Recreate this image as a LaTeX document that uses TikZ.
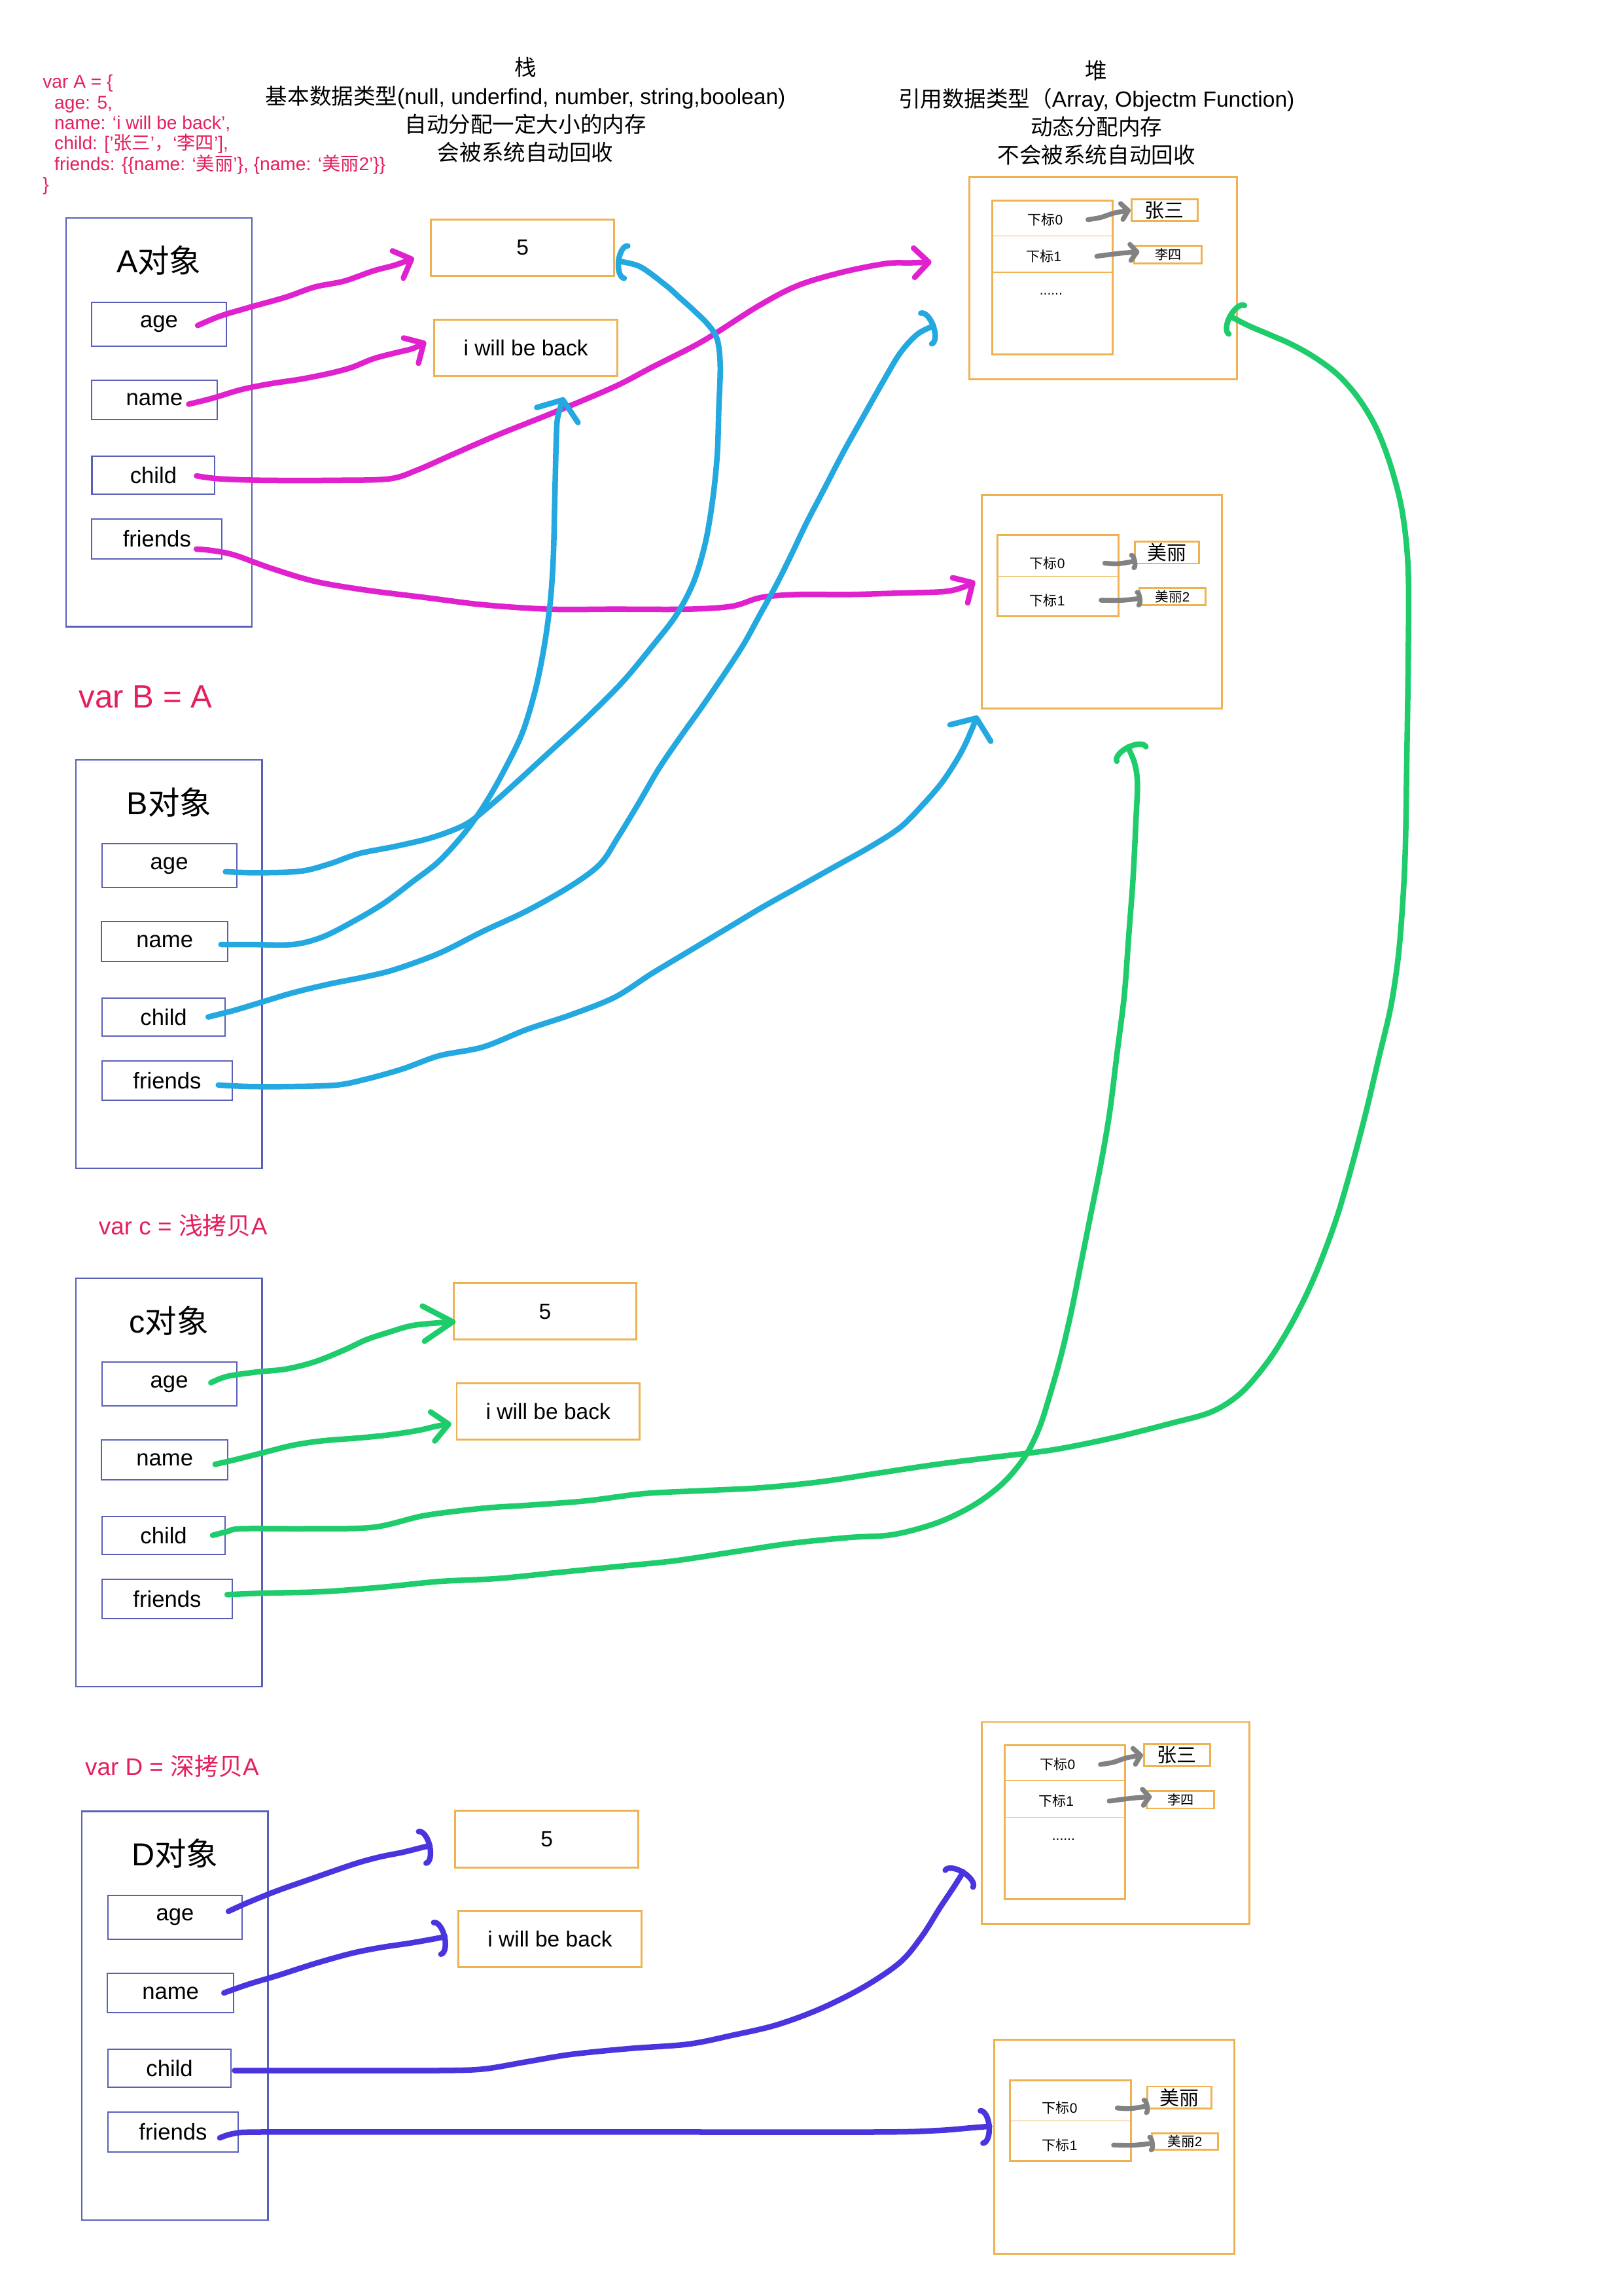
\documentclass[tikz,border=0pt]{standalone}
\usepackage{fontspec}
\setmainfont{Liberation Sans}
\newfontfamily\cjk{Noto Sans CJK SC}
\usetikzlibrary{arrows.meta}
\definecolor{codered}{RGB}{228,32,92}
\definecolor{objline}{RGB}{88,96,184}
\definecolor{heapline}{RGB}{238,178,82}
\definecolor{magline}{RGB}{224,34,206}
\definecolor{blueline}{RGB}{36,168,224}
\definecolor{greenline}{RGB}{30,204,108}
\definecolor{purpline}{RGB}{74,52,222}
\definecolor{grayline}{RGB}{130,130,130}
\newcommand{\zh}[1]{{\cjk #1}}
\newcommand{\fsz}[2]{\fontsize{#1}{#2}\selectfont}

\begin{document}
\begin{tikzpicture}[x=1pt, y=-1pt,
  objbox/.style={draw=objline, line width=1pt, minimum width=127pt,
    minimum height=279pt, inner sep=0},
  field/.style={draw=objline, line width=0.9pt, inner sep=0,
    font=\fsz{15.5}{18}},
  valbox/.style={draw=heapline, line width=1.3pt, minimum width=125pt,
    minimum height=38.5pt, inner sep=0, font=\fsz{15}{18}},
  heapbox/.style={draw=heapline, line width=1.3pt, inner sep=0},
  idx/.style={inner sep=0, font=\fsz{9.4}{11}},
  divider/.style={heapline, line width=0.6pt},
  hand/.style={line width=3.8pt, line cap=round, line join=round},
  chev/.style={-{Straight Barb[round, length=10pt, width=20pt]}},
  hook/.style={-{Arc Barb[round, length=7pt, width=26pt]}},
  grayarr/.style={grayline, line width=3.3pt, line cap=round,
    -{Straight Barb[round, length=4.5pt, width=11pt]}},
  grayhook/.style={grayline, line width=3.3pt, line cap=round,
    -{Arc Barb[round, length=3pt, width=12pt]}},
]
\useasboundingbox (0,0) rectangle (1109,1568);

  % Source object
  \node[anchor=north west, align=left, inner sep=0, text=codered,
    font=\fsz{12.6}{14}] (code) at (29,51) {var A = \{\\
    \hspace*{8pt}age: 5,\\
    \hspace*{8pt}name: ‘i will be back’,\\
    \hspace*{8pt}child: [’\zh{张三}’\zh{，}‘\zh{李四}’],\\
    \hspace*{8pt}friends: \{\{name: ‘\zh{美丽}’\}, \{name: ‘\zh{美丽}2’\}\}\\
    \}};

  % Headers
  \node[anchor=north, align=center, inner sep=0, font=\fsz{15}{19.3}]
    (stackhead) at (359,39) {\zh{栈}\\
    \zh{基本数据类型}(null, underfind, number, string,boolean)\\
    \zh{自动分配一定大小的内存}\\
    \zh{会被系统自动回收}};
  \node[anchor=north, align=center, inner sep=0, font=\fsz{15}{19.3}]
    (heaphead) at (749,41) {\zh{堆}\\
    \zh{引用数据类型（}Array, Objectm Function)\\
    \zh{动态分配内存}\\
    \zh{不会被系统自动回收}};

  % Assignment labels
  \node[text=codered, inner sep=0, font=\fsz{22}{24}] (labB) at (99.5,476) {var B = A};
  \node[text=codered, inner sep=0, font=\fsz{16.5}{18}] (labc) at (125,837) {var c = \zh{浅拷贝}A};
  \node[text=codered, inner sep=0, font=\fsz{16.5}{18}] (labD) at (117.5,1206) {var D = \zh{深拷贝}A};

  % Object panels
  \foreach \ob/\sx/\sy in {A/0/0, B/7/370, c/7/724, D/11/1088} {
    \begin{scope}[shift={(\sx,\sy)}]
      \node[objbox] (\ob-obj) at (108.5,288.5) {};
      \node[inner sep=0, font=\fsz{21.7}{24}] (\ob-title) at (108.5,178) {\ob\zh{对象}};
      \node[field, minimum width=92pt, minimum height=30pt] (\ob-age) at (108.6,221.3) {age};
      \node[field, minimum width=86pt, minimum height=27pt] (\ob-name) at (105.5,273) {name};
      \node[field, minimum width=84pt, minimum height=26pt] (\ob-child) at (104.8,324.5) {child};
      \node[field, minimum width=89pt, minimum height=27pt] (\ob-friends) at (107.2,368) {friends};
    \end{scope}
  }

  % Stack values
  \foreach \ob/\sx/\sy in {A/0/0, c/15.3/726.4, D/16.5/1086.8} {
    \begin{scope}[shift={(\sx,\sy)}]
      \node[valbox] (\ob-v5) at (357,169.2) {5};
      \node[valbox] (\ob-vname) at (359.2,237.4) {i will be back};
    \end{scope}
  }

  % Heap objects
  \foreach \hp/\sx/\sy in {h/0/0, dh/8.5/1055} {
    \begin{scope}[shift={(\sx,\sy)}]
      % child array
      \node[heapbox, minimum width=183pt, minimum height=138pt] (\hp-arr) at (753.5,190) {};
      \node[heapbox, minimum width=82pt, minimum height=105pt] (\hp-list) at (719,189.5) {};
      \draw[divider] (678,161) -- (760,161);
      \draw[divider] (678,186) -- (760,186);
      \node[idx] (\hp-i0) at (714,150) {\zh{下标}0};
      \node[idx] (\hp-i1) at (713,175) {\zh{下标}1};
      \node[idx] (\hp-dots) at (718,201) {......};
      \node[heapbox, minimum width=45pt, minimum height=15pt, font=\fsz{13.4}{15}]
        (\hp-zs) at (795.5,143.5) {\zh{张三}};
      \node[heapbox, minimum width=46pt, minimum height=12pt, font=\fsz{9}{10}]
        (\hp-ls) at (798,174) {\zh{李四}};
      \draw[grayarr] plot[smooth] coordinates {([xshift=17pt]\hp-i0.east) (752,148.5) (761,145.5) (\hp-zs.west)};
      \draw[grayarr] plot[smooth] coordinates {([xshift=24pt]\hp-i1.east) (765,173) ([shift={(4,-2)}]\hp-ls.west)};
      % friends list
      \node[heapbox, minimum width=164pt, minimum height=146pt] (\hp-fri) at (752.75,411) {};
      \node[heapbox, minimum width=82.6pt, minimum height=55.2pt] (\hp-flist) at (722.9,393.2) {};
      \draw[divider] (681.6,393.5) -- (764.2,393.5);
      \node[idx] (\hp-j0) at (715.5,384.6) {\zh{下标}0};
      \node[idx] (\hp-j1) at (715.5,409.9) {\zh{下标}1};
      \node[heapbox, minimum width=43.6pt, minimum height=14.9pt, font=\fsz{13.4}{15}]
        (\hp-ml) at (797.2,377.4) {\zh{美丽}};
      \node[heapbox, minimum width=45.2pt, minimum height=11.5pt, font=\fsz{9.2}{10}]
        (\hp-ml2) at (801,407.5) {\zh{美丽}2};
      \draw[grayhook] plot[smooth] coordinates {([xshift=27pt]\hp-j0.east) (764,385) ([shift={(2,5.5)}]\hp-ml.west)};
      \draw[grayhook] plot[smooth] coordinates {([xshift=24.5pt]\hp-j1.east) (766,410) ([shift={(2.6,1)}]\hp-ml2.west)};
    \end{scope}
  }

  % A: magenta references
  \draw[hand, magline, chev] plot[smooth, tension=0.55] coordinates {([shift={(-20,1)}]A-age.east)
    (150,216) (170,210) (195,203) (215,196) (235,192) (255,185) (270,181) ([shift={(-11,7)}]A-v5.west)};
  \draw[hand, magline, chev] plot[smooth, tension=0.55] coordinates {([shift={(-20,3)}]A-name.east)
    (145,272) (165,266) (185,262) (205,259) (225,255) (240,251) (255,245) (270,241) (282,238)
    ([shift={(-5,-4)}]A-vname.west)};
  \draw[hand, magline, chev] plot[smooth, tension=0.55] coordinates {([shift={(-13,0.5)}]A-child.east)
    (150,327) (180,328) (230,328) (266,327) (285,321) (310,310) (340,297) (380,281) (420,264)
    (445,251) (480,233) (518,209) (545,195) (575,186) (605,180) (622,179.5) ([shift={(-25,-11)}]h-arr.west)};
  \draw[hand, magline, chev] plot[smooth, tension=0.55] coordinates {([shift={(-18,7)}]A-friends.east)
    (145,376) (160,379) (185,388) (215,397) (250,403) (290,408) (330,413) (375,416) (420,416)
    (470,416) (500,414) (520,408) (545,406) (580,406) (615,405) (645,404) (658,401)
    ([shift={(-4,-14)}]h-fri.west)};

  % B: blue references (same targets)
  \draw[hand, blueline, hook] plot[smooth, tension=0.55] coordinates {([shift={(-8,4)}]B-age.east)
    (175,596) (205,595) (225,590) (245,583) (270,578) (295,572) (318,563) (335,550) (352,535)
    (376,513) (400,491) (425,466) (445,442) (462,420) (474,397) (482,370) (487,340) (490,310)
    (491,280) (492,250) (490,232) (484,222) (474,212) (464,203) (455,195) (437,182)
    ([shift={(0.5,9)}]A-v5.east)};
  \draw[hand, blueline, -{Straight Barb[round, length=11pt, width=30pt]}] plot[smooth, tension=0.55]
    coordinates {([shift={(-5,2)}]B-name.east)
    (170,645) (200,645) (220,640) (240,630) (262,617) (282,602) (300,588) (318,568) (332,548)
    (345,525) (357,500) (366,470) (372,440) (376,410) (378,380) (379,340) (380,300) (381,285)
    ([shift={(26,14)}]A-vname.south)};
  \draw[hand, blueline, hook] plot[smooth, tension=0.55] coordinates {([shift={(-12,0)}]B-child.east)
    (160,690) (180,684) (200,678) (225,672) (250,667) (270,662) (300,651) (330,636) (360,622)
    (390,605) (410,590) (422,572) (436,549) (450,525) (465,503) (480,482) (495,460) (508,440)
    (519,420) (530,400) (540,380) (551,357) (563,334) (576,309) (590,284) (603,261) (615,241)
    (627,228) ([shift={(-22,32)}]h-arr.west)};
  \draw[hand, blueline, -{Straight Barb[round, length=11pt, width=30pt]}] plot[smooth, tension=0.55]
    coordinates {([shift={(-10,3)}]B-friends.east)
    (170,742) (200,742) (230,741) (250,737) (275,730) (300,721) (330,715) (360,703) (390,693)
    (420,681) (445,665) (470,650) (495,635) (520,620) (545,606) (570,592) (595,578) (615,565)
    (630,550) (643,535) (653,520) (660,507) ([shift={(-85,4)}]h-fri.south)};

  % c: green references (shallow copy)
  \draw[hand, greenline, -{Straight Barb[round, length=20pt, width=24pt]}] plot[smooth, tension=0.55]
    coordinates {([shift={(-18,-1)}]c-age.east)
    (155,940) (175,937) (195,935) (215,930) (235,922) (250,915) (265,910) (283,905)
    ([shift={(2,7)}]c-v5.west)};
  \draw[hand, greenline, -{Straight Barb[round, length=11pt, width=20pt]}] plot[smooth, tension=0.55]
    coordinates {([shift={(-9,3)}]c-name.east)
    (160,997) (180,992) (200,987) (220,984) (245,982) (265,980) (285,977) (298,974)
    ([shift={(-3,8.5)}]c-vname.west)};
  \draw[hand, greenline, hook] plot[smooth, tension=0.55] coordinates {([shift={(-9,0)}]c-child.east)
    (155,1046) (165,1044) (210,1044) (255,1043) (290,1035) (330,1030) (360,1028) (400,1025)
    (440,1020) (480,1018) (520,1016) (560,1012) (600,1006) (640,1000) (680,995) (720,990)
    (760,982) (800,972) (828,964) (848,951) (866,930) (880,908) (892,885) (902,862) (913,832)
    (923,798) (933,760) (942,722) (950,688) (955,655) (958,620) (960,580) (961,520) (962,450)
    (962,390) (958,350) (950,318) (940,292) (928,272) (914,256) (898,244) (882,235) (866,228)
    (852,222) ([shift={(-7,25)}]h-arr.east)};
  \draw[hand, greenline, hook] plot[smooth, tension=0.55] coordinates {([shift={(-4,-3)}]c-friends.east)
    (180,1088) (220,1087) (260,1084) (300,1080) (340,1078) (380,1074) (420,1070) (460,1066)
    (500,1060) (540,1054) (580,1050) (610,1048) (640,1040) (665,1028) (685,1013) (700,995)
    (710,975) (718,950) (725,925) (732,895) (738,865) (745,830) (752,795) (758,760) (763,720)
    (768,680) (771,640) (774,600) (776,560) (777,535) (775,521) ([shift={(17,24)}]h-fri.south)};

  % D: purple references (deep copy)
  \draw[hand, purpline, hook] plot[smooth, tension=0.55] coordinates {([shift={(-10,-4)}]D-age.east)
    (170,1299) (190,1291) (210,1284) (230,1277) (245,1272) (260,1268) (275,1265) (287,1262)
    ([shift={(-15,4)}]D-v5.west)};
  \draw[hand, purpline, hook] plot[smooth, tension=0.55] coordinates {([shift={(-7,0)}]D-name.east)
    (170,1355) (190,1349) (215,1341) (240,1334) (260,1330) (280,1327) (297,1324)
    ([shift={(-7,-2)}]D-vname.west)};
  \draw[hand, purpline, hook] plot[smooth, tension=0.55] coordinates {([shift={(2,1.5)}]D-child.east)
    (200,1414) (250,1414) (300,1414) (330,1413) (360,1408) (390,1403) (430,1399) (470,1396)
    (500,1390) (530,1383) (560,1372) (590,1357) (615,1340) (630,1322) (642,1303) (652,1288)
    ([shift={(-11,32)}]dh-arr.west)};
  \draw[hand, purpline, hook] plot[smooth, tension=0.55] coordinates {([shift={(-13,4)}]D-friends.east)
    (160,1457) (180,1456) (300,1456) (450,1456) (600,1456) (640,1455) (665,1453)
    ([shift={(-1,-14)}]dh-fri.west)};
\end{tikzpicture}
\end{document}
